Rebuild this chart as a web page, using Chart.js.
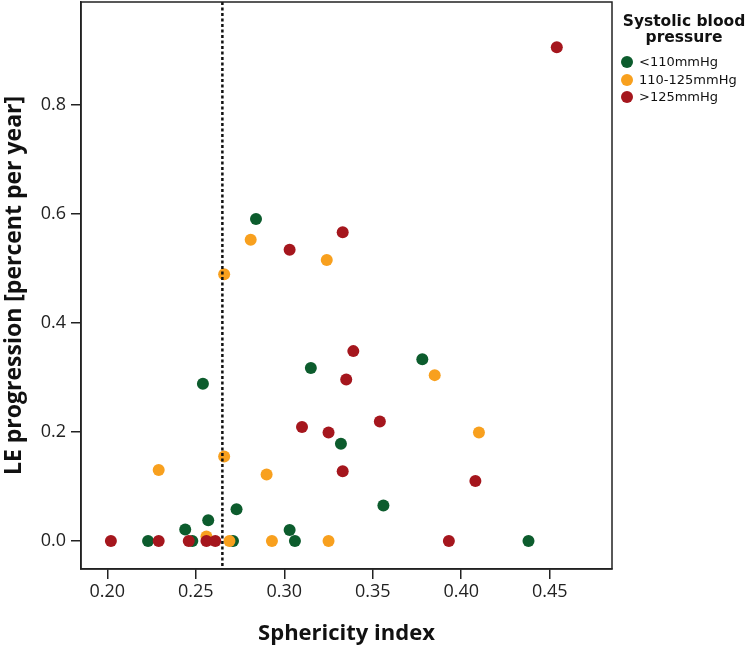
<!DOCTYPE html>
<html><head><meta charset="utf-8">
<script src="https://cdn.jsdelivr.net/npm/chart.js@4.4.1/dist/chart.umd.min.js"></script>
<style>
html,body{margin:0;padding:0;background:#fff;}
#wrap{position:relative;width:750px;height:652px;overflow:hidden;}
canvas{position:absolute;left:0;top:0;}
#legend{position:absolute;left:612px;top:0;width:138px;height:200px;font-family:"DejaVu Sans",Verdana,sans-serif;color:#111;}
#legend .t{position:absolute;left:0;top:13px;width:144px;font-weight:bold;font-size:15.5px;line-height:16px;text-align:center;}
#legend .item{position:absolute;left:9px;font-size:13px;line-height:16px;white-space:nowrap;}
#legend .dot{position:absolute;left:0;top:2px;width:12px;height:12px;border-radius:50%;}
#legend .lab{position:absolute;left:18px;top:0;}
</style></head>
<body>
<div id="wrap">
<canvas id="c" width="750" height="652"></canvas>
<div id="legend"></div>
</div>
<script>
// ---- data ----
const seriesNames = ['<110mmHg', '110-125mmHg', '>125mmHg'];
const legendTitle = ['Systolic blood', 'pressure'];
const seriesColors = ['#0c5c2d', '#f8a01e', '#a5161d'];

const greenX = [0.284, 0.254, 0.315, 0.332, 0.378, 0.273, 0.257, 0.244, 0.223, 0.303, 0.306, 0.356, 0.438, 0.271, 0.248];
const greenY = [0.590, 0.288, 0.317, 0.178, 0.333, 0.058, 0.038, 0.021, 0.000, 0.020, 0.000, 0.065, 0.000, 0.000, 0.000];

const orangeX = [0.281, 0.266, 0.324, 0.385, 0.410, 0.266, 0.229, 0.290, 0.256, 0.269, 0.293, 0.325];
const orangeY = [0.552, 0.489, 0.515, 0.304, 0.199, 0.155, 0.130, 0.122, 0.008, 0.000, 0.000, 0.000];

const redX = [0.454, 0.333, 0.303, 0.339, 0.335, 0.354, 0.310, 0.325, 0.333, 0.408, 0.202, 0.229, 0.246, 0.256, 0.261, 0.393];
const redY = [0.905, 0.566, 0.534, 0.348, 0.296, 0.219, 0.209, 0.199, 0.128, 0.110, 0.000, 0.000, 0.000, 0.000, 0.000, 0.000];

const xTicks = [0.20, 0.25, 0.30, 0.35, 0.40, 0.45];
const yTicks = [0.0, 0.2, 0.4, 0.6, 0.8];
const cutoffX = 0.265;

const xTitle = 'Sphericity index';
const yTitle = 'LE progression [percent per year]';

// ---- build ----
function pts(xs, ys){ return xs.map((x,i)=>({x:x, y:ys[i]})); }
const allX = [greenX, orangeX, redX];
const allY = [greenY, orangeY, redY];
const datasets = seriesNames.map((n,i)=>({
  label:n,
  data:pts(allX[i], allY[i]),
  backgroundColor:seriesColors[i],
  borderColor:seriesColors[i],
  borderWidth:0,
  pointRadius:6,
  pointHoverRadius:6,
  order:3-i
}));

// legend (HTML)
const lg = document.getElementById('legend');
const t = document.createElement('div'); t.className='t'; t.innerHTML = legendTitle.join('<br>'); lg.appendChild(t);
seriesNames.forEach((n,i)=>{
  const it = document.createElement('div'); it.className='item';
  it.style.top = (54 + i*17.5) + 'px';
  const d = document.createElement('span'); d.className='dot'; d.style.background = seriesColors[i];
  const l = document.createElement('span'); l.className='lab'; l.textContent = n;
  it.appendChild(d); it.appendChild(l); lg.appendChild(it);
});

const framePlugin = {
  id:'frame',
  afterDatasetsDraw(chart){
    const {ctx, chartArea:a, scales} = chart;
    const px = scales.x.getPixelForValue(cutoffX);
    ctx.save();
    ctx.strokeStyle = '#111';
    ctx.lineWidth = 2.5;
    ctx.setLineDash([3,2.5]);
    ctx.beginPath(); ctx.moveTo(px, a.top); ctx.lineTo(px, a.bottom); ctx.stroke();
    ctx.setLineDash([]);
    ctx.lineWidth = 1.5;
    ctx.strokeStyle = '#222';
    ctx.strokeRect(a.left, a.top, a.right - a.left, a.bottom - a.top);
    ctx.restore();
  }
};

const tickFont = {family:'"Open Sans", sans-serif', size:18};

new Chart(document.getElementById('c'), {
  type:'scatter',
  data:{datasets},
  options:{
    responsive:false,
    animation:false,
    events:[],
    layout:{autoPadding:false, padding:{top:2, right:138, left:0, bottom:0}},
    plugins:{legend:{display:false}, tooltip:{enabled:false}},
    scales:{
      x:{
        type:'linear', min:0.1851, max:0.4852,
        afterFit(s){ s.height = 83; s.paddingLeft = 0; s.paddingRight = 0; },
        afterBuildTicks(s){ s.ticks = xTicks.map(v=>({value:v})); },
        ticks:{font:tickFont, color:'#222', padding:2, maxRotation:0, callback:v=>Number(v).toFixed(2)},
        grid:{display:true, drawOnChartArea:false, drawTicks:true, tickLength:10, color:'#222', lineWidth:1.5},
        border:{display:true, color:'#222', width:1.5},
        title:{display:true, text:xTitle, font:{family:'"Open Sans", sans-serif', size:22, weight:'bold'}, color:'#111', padding:{top:0,bottom:5}}
      },
      y:{
        type:'linear', min:-0.0514, max:0.988,
        afterFit(s){ s.width = 81; s.paddingTop = 0; s.paddingBottom = 0; },
        afterBuildTicks(s){ s.ticks = yTicks.map(v=>({value:v})); },
        ticks:{font:tickFont, color:'#222', padding:5, callback:v=>Number(v).toFixed(1)},
        grid:{display:true, drawOnChartArea:false, drawTicks:true, tickLength:10, color:'#222', lineWidth:1.5},
        border:{display:true, color:'#222', width:1.5},
        title:{display:true, text:yTitle, font:{family:'"Open Sans", sans-serif', size:23, weight:'bold'}, color:'#111', padding:{top:1,bottom:0}}
      }
    }
  },
  plugins:[framePlugin]
});
</script>
</body></html>
